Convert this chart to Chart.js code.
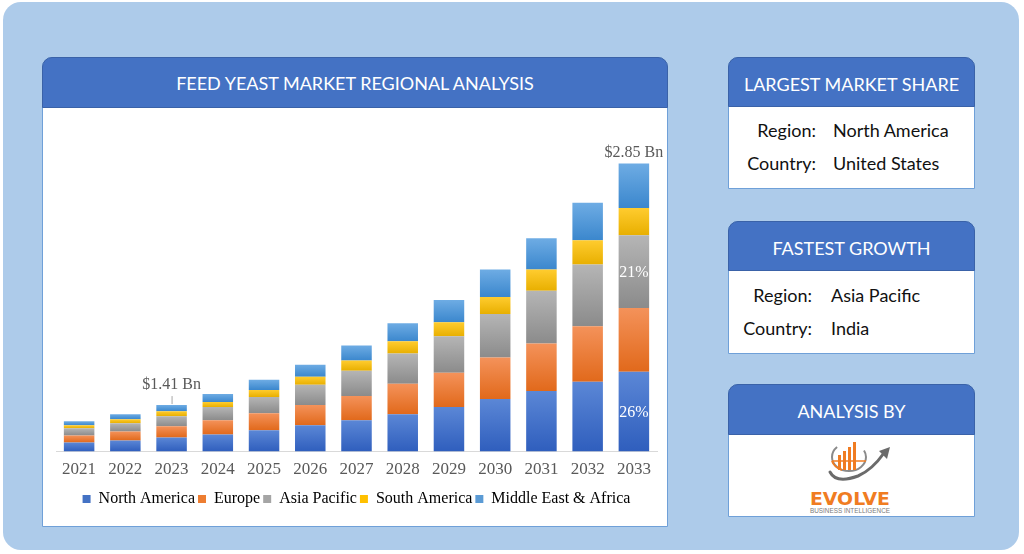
<!DOCTYPE html>
<html>
<head>
<meta charset="utf-8">
<script src="https://cdn.jsdelivr.net/npm/chart.js@4.4.1/dist/chart.umd.min.js"></script>
<style>
    html, body { margin: 0; padding: 0; background: #ffffff; }
    body { width: 1024px; height: 554px; position: relative; overflow: hidden; font-family: Lato, "Open Sans", sans-serif; }
    .outer { position: absolute; left: 3px; top: 2px; width: 1016px; height: 548px; background: #adcbea; border-radius: 18px; }
    .box { position: absolute; background: #ffffff; border: 1px solid #6fa0d8; border-radius: 10px 10px 0 0; box-sizing: border-box; }
    .head { position: absolute; left: -1px; right: -1px; top: -1px; background: #4472c4; border: 1px solid #3a62a8; border-radius: 10px 10px 0 0; color: #ffffff; text-align: center; box-sizing: border-box; }
    .row { position: absolute; font-size: 18px; color: #111; white-space: nowrap; }
    .row .k { position: absolute; right: 0; text-align: right; }
    .row .v { position: absolute; left: 0; }
    #chartWrap { position: absolute; left: 43px; top: 107px; width: 624px; height: 419px; }
</style>
</head>
<body>
<div class="outer"></div>

<div class="box" style="left:42px; top:57px; width:626px; height:470px;">
    <div class="head" style="height:51px; line-height:50px; font-size:18px;">FEED YEAST MARKET REGIONAL ANALYSIS</div>
</div>
<div id="chartWrap"><canvas id="regionChart" width="624" height="419"></canvas></div>

<div class="box" style="left:728px; top:57px; width:247px; height:132px;">
    <div class="head" style="height:50px; line-height:52px; font-size:18px;">LARGEST MARKET SHARE</div>
</div>
<div class="row" style="top:119px; left:0;"><span class="k" style="right:-816px;">Region:</span></div>
<div class="row" style="top:119px; left:833px;"><span class="v">North America</span></div>
<div class="row" style="top:152px; left:0;"><span class="k" style="right:-816px;">Country:</span></div>
<div class="row" style="top:152px; left:833px;"><span class="v">United States</span></div>

<div class="box" style="left:728px; top:221px; width:247px; height:133px;">
    <div class="head" style="height:50px; line-height:52px; font-size:18px;">FASTEST GROWTH</div>
</div>
<div class="row" style="top:284px; left:0;"><span class="k" style="right:-812px;">Region:</span></div>
<div class="row" style="top:284px; left:831px;"><span class="v">Asia Pacific</span></div>
<div class="row" style="top:317px; left:0;"><span class="k" style="right:-812px;">Country:</span></div>
<div class="row" style="top:317px; left:831px;"><span class="v">India</span></div>

<div class="box" style="left:728px; top:384px; width:247px; height:133px;">
    <div class="head" style="height:51px; line-height:52px; font-size:18px;">ANALYSIS BY</div>
</div>

<!-- logo -->
<svg style="position:absolute; left:800px; top:436px;" width="100" height="80" viewBox="800 436 100 80">
    <ellipse cx="849" cy="457" rx="17" ry="14" fill="none" stroke="#8a8a8a" stroke-width="2" stroke-dasharray="60 30" />
    <path d="M832 461 A17 14 0 0 0 842 470" fill="none" stroke="#f07c22" stroke-width="2" />
    <line x1="832" y1="461" x2="866" y2="461" stroke="#f07c22" stroke-width="1.5" />
    <rect x="838" y="455" width="3" height="15" fill="#f07c22" />
    <rect x="843" y="451" width="3" height="19" fill="#f07c22" />
    <rect x="848" y="447" width="3" height="23" fill="#f07c22" />
    <rect x="853" y="442" width="3" height="28" fill="#f07c22" />
    <path d="M830 472 Q836 484 858 476 Q872 470 884 453" fill="none" stroke="#6b6b6b" stroke-width="3" stroke-linecap="round" />
    <polygon points="890,447 879,451 887,459" fill="#6b6b6b" />
    <text x="850" y="505" text-anchor="middle" font-family="'DejaVu Sans', sans-serif" font-weight="bold" font-size="18" fill="#f07c22" textLength="80" lengthAdjust="spacingAndGlyphs">EVOLVE</text>
    <text x="850" y="513" text-anchor="middle" font-family="'Liberation Sans', sans-serif" font-size="6.5" fill="#7a7a7a" textLength="80" lengthAdjust="spacingAndGlyphs">BUSINESS INTELLIGENCE</text>
</svg>

<script>
// categories and series (USD Bn)
const years = ['2021', '2022', '2023', '2024', '2025', '2026', '2027', '2028', '2029', '2030', '2031', '2032', '2033'];
const northAmerica = [0.09, 0.11, 0.14, 0.17, 0.21, 0.26, 0.31, 0.37, 0.44, 0.52, 0.60, 0.69, 0.79];
const europe = [0.07, 0.09, 0.11, 0.14, 0.17, 0.20, 0.24, 0.30, 0.34, 0.41, 0.47, 0.55, 0.63];
const asiaPacific = [0.07, 0.08, 0.10, 0.13, 0.16, 0.20, 0.25, 0.30, 0.36, 0.43, 0.52, 0.61, 0.72];
const southAmerica = [0.03, 0.04, 0.05, 0.05, 0.07, 0.08, 0.10, 0.12, 0.14, 0.17, 0.21, 0.24, 0.27];
const middleEastAfrica = [0.04, 0.05, 0.06, 0.08, 0.10, 0.12, 0.15, 0.18, 0.22, 0.27, 0.31, 0.37, 0.44];

// annotations
const totalLabelYears = ['2023', '2033'];
const totalLabelTexts = ['$1.41 Bn', '$2.85 Bn'];
const shareLabelSeries = ['North America', 'Asia Pacific'];
const shareLabelTexts = ['26%', '21%'];
const shareLabelYear = '2033';

const serif = "'Liberation Serif', 'Times New Roman', serif";

const series = [
    { label: 'North America', data: northAmerica, solid: '#4472c4', top: '#5b87d6', bottom: '#2f5ebd' },
    { label: 'Europe', data: europe, solid: '#ed7d31', top: '#f4925a', bottom: '#e1691b' },
    { label: 'Asia Pacific', data: asiaPacific, solid: '#a5a5a5', top: '#b5b5b5', bottom: '#8b8b8b' },
    { label: 'South America', data: southAmerica, solid: '#ffc000', top: '#ffcc2f', bottom: '#e8af00' },
    { label: 'Middle East & Africa', data: middleEastAfrica, solid: '#5b9bd5', top: '#6eace4', bottom: '#3b87cd' }
];

// vertical gradient per bar segment, lighter at the top
const segmentFill = (s, dsIndex) => (ctx) => {
    const chart = ctx.chart;
    if (!chart.chartArea || ctx.type !== 'data') return s.solid;
    let below = 0;
    for (let k = 0; k < dsIndex; k++) below += series[k].data[ctx.dataIndex];
    const y = chart.scales.y;
    const yTop = y.getPixelForValue(below + s.data[ctx.dataIndex]);
    const yBot = y.getPixelForValue(below);
    if (!isFinite(yTop) || !isFinite(yBot) || yTop === yBot) return s.solid;
    const g = chart.ctx.createLinearGradient(0, yTop, 0, yBot);
    g.addColorStop(0, s.top);
    g.addColorStop(1, s.bottom);
    return g;
};

const labelPlugin = {
    id: 'barLabels',
    afterDatasetsDraw(chart) {
        const c = chart.ctx;
        const lastMeta = chart.getDatasetMeta(series.length - 1);
        c.save();
        c.textAlign = 'center';
        c.textBaseline = 'middle';

        // totals above bars
        c.font = '16px ' + serif;
        totalLabelYears.forEach((yr, i) => {
            const el = lastMeta.data[years.indexOf(yr)];
            const withLeader = i === 0;
            const lift = withLeader ? 20 : 11;
            if (withLeader) {
                c.strokeStyle = '#a6a6a6';
                c.lineWidth = 1;
                c.beginPath();
                c.moveTo(el.x + 0.5, el.y - 9);
                c.lineTo(el.x + 0.5, el.y - 1);
                c.stroke();
            }
            c.fillStyle = '#595959';
            c.fillText(totalLabelTexts[i], el.x, el.y - lift);
        });

        // share percentages inside the last bar
        c.fillStyle = '#ffffff';
        shareLabelSeries.forEach((name, i) => {
            const di = series.findIndex(s => s.label === name);
            const el = chart.getDatasetMeta(di).data[years.indexOf(shareLabelYear)];
            c.fillText(shareLabelTexts[i], el.x, (el.y + el.base) / 2 + 1);
        });
        c.restore();
    }
};

const ctx = document.getElementById('regionChart').getContext('2d');

window.regionChart = new Chart(ctx, {
    type: 'bar',
    data: {
        labels: years,
        datasets: series.map((s, i) => ({
            label: s.label,
            data: s.data,
            backgroundColor: segmentFill(s, i),
            borderWidth: 0,
            barPercentage: 0.66,
            categoryPercentage: 1
        }))
    },
    options: {
        responsive: false,
        animation: false,
        layout: {
            padding: { top: 21, left: 13, right: 10, bottom: 9 }
        },
        plugins: {
            title: { display: false },
            tooltip: { enabled: false },
            legend: {
                position: 'bottom',
                labels: {
                    boxWidth: 8,
                    boxHeight: 8,
                    padding: 3,
                    color: '#595959',
                    font: { family: serif, size: 16 },
                    generateLabels: (chart) => series.map((s, i) => ({
                        text: s.label,
                        fillStyle: s.solid,
                        strokeStyle: s.solid,
                        lineWidth: 0,
                        datasetIndex: i,
                        hidden: false
                    }))
                }
            }
        },
        scales: {
            x: {
                stacked: true,
                grid: { display: false, drawTicks: false },
                border: { display: true, color: '#d9d9d9', width: 1 },
                ticks: {
                    padding: 8,
                    color: '#595959',
                    font: { family: serif, size: 17 }
                }
            },
            y: {
                stacked: true,
                display: false,
                min: 0,
                max: 3.2
            }
        }
    },
    plugins: [labelPlugin]
});
</script>
</body>
</html>
